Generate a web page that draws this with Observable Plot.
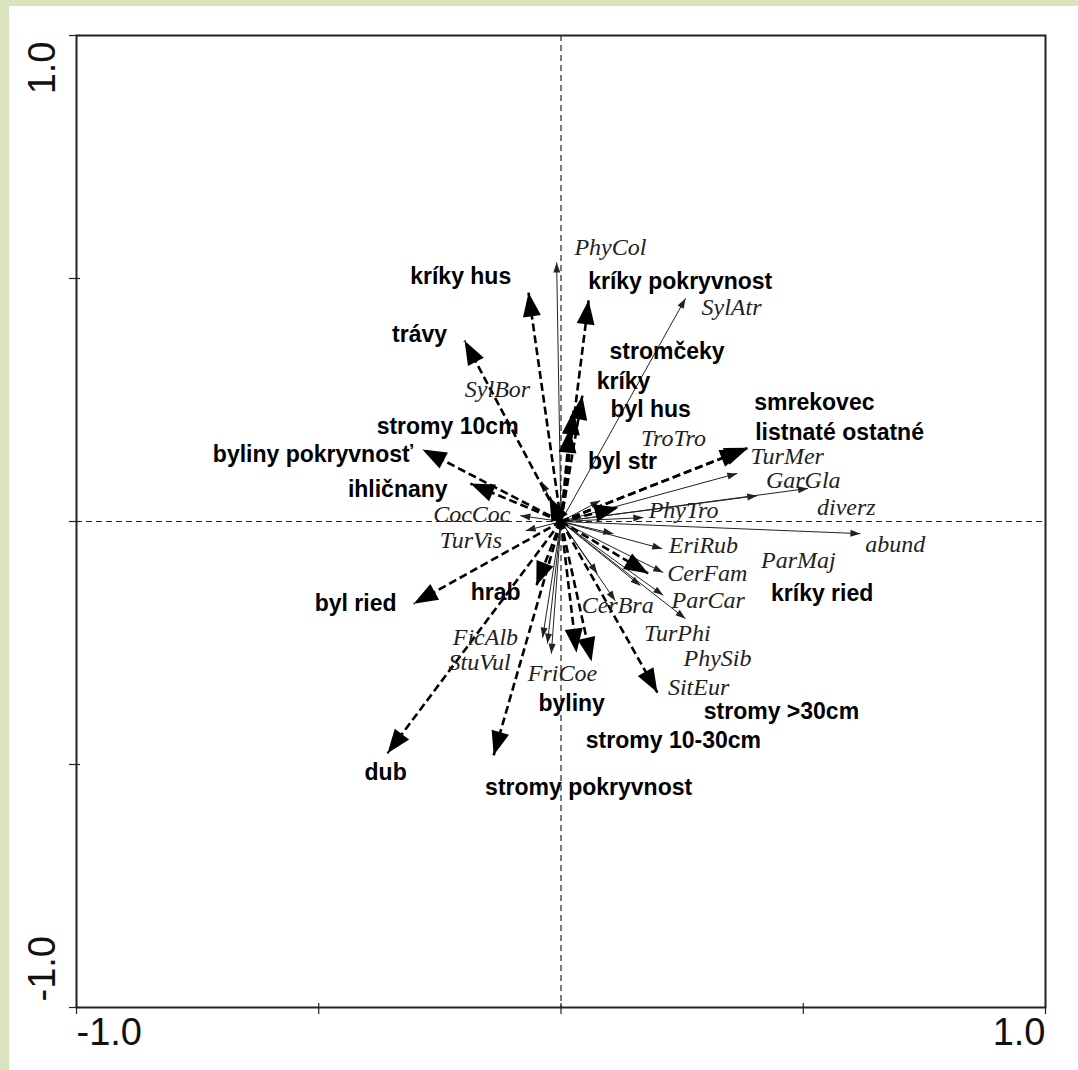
<!DOCTYPE html>
<html><head><meta charset="utf-8">
<script src="https://cdn.jsdelivr.net/npm/d3@7"></script>
<script src="https://cdn.jsdelivr.net/npm/@observablehq/plot@0.6"></script>
<style>
html,body{margin:0;padding:0;}
body{width:1078px;height:1070px;background:#d9e4bd;position:relative;overflow:hidden;}
#paper{position:absolute;left:9px;top:6px;right:0;bottom:0;background:#fff;}
#chart{position:absolute;left:0;top:0;}
</style></head><body><div id="paper"></div><div id="chart"></div>
<script>
// Environmental variables (dashed arrows)
const envNames = ["kríky hus","kríky pokryvnost","trávy","stromčeky","kríky","byl hus","stromy 10cm","byliny pokryvnosť","ihličnany","byl str","smrekovec","listnaté ostatné","kríky ried","stromy >30cm","stromy 10-30cm","byliny","stromy pokryvnost","dub","hrab","byl ried"];
const envX = [-0.067, 0.057, -0.199, 0.044, 0.026, 0.018, -0.024, -0.286, -0.187, 0.119, 0.387, 0.378, 0.180, 0.199, 0.063, 0.032, -0.139, -0.358, -0.051, -0.304];
const envY = [0.471, 0.455, 0.372, 0.259, 0.228, 0.191, 0.051, 0.148, 0.078, 0.029, 0.152, 0.148, -0.107, -0.352, -0.288, -0.270, -0.481, -0.477, -0.132, -0.169];
const envLabelX = [-0.207, 0.246, -0.292, 0.219, 0.129, 0.185, -0.234, -0.512, -0.337, 0.127, 0.523, 0.575, 0.539, 0.455, 0.232, 0.022, 0.057, -0.362, -0.135, -0.424];
const envLabelY = [0.504, 0.494, 0.385, 0.350, 0.288, 0.230, 0.195, 0.138, 0.066, 0.123, 0.245, 0.183, -0.148, -0.391, -0.451, -0.374, -0.547, -0.516, -0.146, -0.169];

// Species and supplementary variables (thin solid arrows)
const spNames = ["PhyCol","SylAtr","SylBor","TroTro","TurMer","GarGla","diverz","PhyTro","abund","CocCoc","TurVis","EriRub","ParMaj","CerFam","ParCar","CerBra","TurPhi","PhySib","SitEur","FicAlb","StuVul","FriCoe"];
const spX = [-0.009, 0.257, -0.040, 0.081, 0.364, 0.405, 0.510, 0.170, 0.618, -0.084, -0.073, 0.209, 0.108, 0.211, 0.211, 0.075, 0.257, 0.164, 0.112, -0.038, -0.028, -0.020];
const spY = [0.533, 0.459, 0.082, 0.043, 0.099, 0.053, 0.068, 0.008, -0.025, 0.012, -0.019, -0.056, -0.025, -0.105, -0.152, -0.107, -0.200, -0.132, -0.163, -0.239, -0.251, -0.272];
const spLabelX = [0.102, 0.352, -0.131, 0.232, 0.467, 0.500, 0.589, 0.253, 0.690, -0.184, -0.186, 0.294, 0.490, 0.302, 0.304, 0.117, 0.240, 0.323, 0.284, -0.156, -0.168, 0.003];
const spLabelY = [0.564, 0.440, 0.272, 0.171, 0.134, 0.084, 0.029, 0.023, -0.047, 0.014, -0.039, -0.049, -0.080, -0.107, -0.163, -0.173, -0.230, -0.282, -0.342, -0.239, -0.290, -0.313];

// Axis ticks
const axisTicks = [-1, -0.5, 0, 0.5, 1];
const tickLabelLow = "-1.0";
const tickLabelHigh = "1.0";

const env = envNames.map((name, i) => ({name, x: envX[i], y: envY[i], lx: envLabelX[i], ly: envLabelY[i]}));
const sp = spNames.map((name, i) => ({name, x: spX[i], y: spY[i], lx: spLabelX[i], ly: spLabelY[i]}));
const angle = d => Math.atan2(d.x, d.y) * 180 / Math.PI;

const bigHead = {draw(ctx) { ctx.moveTo(0, 0); ctx.lineTo(-9, 24); ctx.lineTo(9, 24); ctx.closePath(); }};
const smallHead = {draw(ctx) { ctx.moveTo(0, 0); ctx.lineTo(-3.5, 10); ctx.lineTo(3.5, 10); ctx.closePath(); }};

const chart = Plot.plot({
  width: 1078, height: 1070,
  marginLeft: 76, marginRight: 33, marginTop: 35, marginBottom: 63,
  style: {background: "transparent", overflow: "visible"},
  x: {domain: [-1, 1], axis: null},
  y: {domain: [-1, 1], axis: null},
  marks: [
    Plot.ruleX([0], {stroke: "#222", strokeWidth: 1.2, strokeDasharray: "6,4"}),
    Plot.ruleY([0], {stroke: "#222", strokeWidth: 1.2, strokeDasharray: "6,4"}),
    Plot.axisX(axisTicks, {anchor: "bottom", tickSize: 7, tickFormat: () => "", stroke: "#222", strokeWidth: 1.2}),
    Plot.axisY(axisTicks, {anchor: "left", tickSize: 7, tickFormat: () => "", stroke: "#222", strokeWidth: 1.2}),
    Plot.axisX(axisTicks, {anchor: "bottom", tickSize: -4, tickFormat: () => "", stroke: "#222", strokeWidth: 1.2}),
    Plot.axisY(axisTicks, {anchor: "left", tickSize: -4, tickFormat: () => "", stroke: "#222", strokeWidth: 1.2}),
    Plot.frame({stroke: "#222", strokeWidth: 2}),
    // species arrows
    Plot.link(sp, {x1: 0, y1: 0, x2: "x", y2: "y", stroke: "#222", strokeWidth: 1}),
    Plot.dot(sp, {x: "x", y: "y", symbol: smallHead, rotate: angle, fill: "#222", stroke: "none"}),
    // environmental arrows
    Plot.link(env, {x1: 0, y1: 0, x2: "x", y2: "y", stroke: "black", strokeWidth: 2.6, strokeDasharray: "8,4"}),
    Plot.dot(env, {x: "x", y: "y", symbol: bigHead, rotate: angle, fill: "black", stroke: "none"}),
    // labels
    Plot.text(sp, {x: "lx", y: "ly", text: "name", fontFamily: "Liberation Serif", fontStyle: "italic", fontSize: 24, fill: "#222", textAnchor: "middle", lineAnchor: "middle"}),
    Plot.text(env, {x: "lx", y: "ly", text: "name", fontFamily: "Liberation Sans", fontWeight: "bold", fontSize: 23, fill: "black", textAnchor: "middle", lineAnchor: "middle"}),
    // tick labels
    Plot.text([axisTicks[0]], {x: d => d, y: -1, text: () => tickLabelLow, textAnchor: "start", lineAnchor: "middle", dy: 25, fontFamily: "Liberation Sans", fontSize: 38, fill: "#111"}),
    Plot.text([axisTicks[4]], {x: d => d, y: -1, text: () => tickLabelHigh, textAnchor: "end", lineAnchor: "middle", dy: 25, fontFamily: "Liberation Sans", fontSize: 38, fill: "#111"}),
    Plot.text([axisTicks[4]], {x: -1, y: d => d, text: () => tickLabelHigh, rotate: -90, textAnchor: "end", lineAnchor: "middle", dx: -34, dy: 6, fontFamily: "Liberation Sans", fontSize: 38, fill: "#111"}),
    Plot.text([axisTicks[0]], {x: -1, y: d => d, text: () => tickLabelLow, rotate: -90, textAnchor: "start", lineAnchor: "middle", dx: -34, dy: -6, fontFamily: "Liberation Sans", fontSize: 38, fill: "#111"})
  ]
});
document.getElementById("chart").appendChild(chart);
</script></body></html>
